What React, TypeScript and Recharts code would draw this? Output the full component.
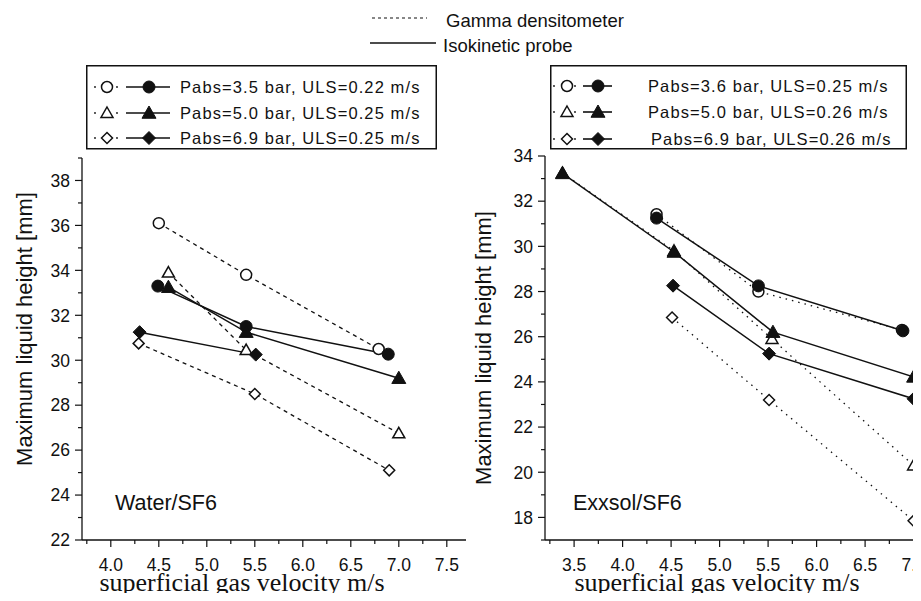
import React from "react";
import { LineChart, Line, XAxis, YAxis, Customized } from "recharts";

type Pt = [number, number];

// Water/SF6, gamma densitometer (open symbols, dashed)
const waterGamma35: Pt[] = [[4.5, 36.1], [5.41, 33.8], [6.79, 30.5]];
const waterGamma50: Pt[] = [[4.6, 33.9], [5.41, 30.45], [7.0, 26.75]];
const waterGamma69: Pt[] = [[4.29, 30.75], [5.5, 28.5], [6.9, 25.1]];
// Water/SF6, isokinetic probe (filled symbols, solid)
const waterIso35: Pt[] = [[4.49, 33.3], [5.41, 31.5], [6.89, 30.27]];
const waterIso50: Pt[] = [[4.6, 33.25], [5.41, 31.25], [7.0, 29.2]];
const waterIso69: Pt[] = [[4.3, 31.25], [5.51, 30.25]];

// Exxsol/SF6, gamma densitometer
const exxGamma36: Pt[] = [[4.35, 31.42], [5.4, 28.0], [6.88, 26.3]];
const exxGamma50: Pt[] = [[3.38, 33.25], [4.53, 29.8], [5.54, 25.9], [7.0, 20.3]];
const exxGamma69: Pt[] = [[4.51, 26.85], [5.51, 23.2], [7.0, 17.85]];
// Exxsol/SF6, isokinetic probe
const exxIso36: Pt[] = [[4.35, 31.25], [5.4, 28.25], [6.89, 26.26]];
const exxIso50: Pt[] = [[3.38, 33.23], [4.53, 29.75], [5.55, 26.2], [7.0, 24.22]];
const exxIso69: Pt[] = [[4.52, 28.26], [5.51, 25.25], [7.0, 23.25]];

const waterXTicks = [3.75, 4.0, 4.25, 4.5, 4.75, 5.0, 5.25, 5.5, 5.75, 6.0, 6.25, 6.5, 6.75, 7.0, 7.25, 7.5];
const exxXTicks = [3.25, 3.5, 3.75, 4.0, 4.25, 4.5, 4.75, 5.0, 5.25, 5.5, 5.75, 6.0, 6.25, 6.5, 6.75, 7.0];
const waterYTicks = [22, 23, 24, 25, 26, 27, 28, 29, 30, 31, 32, 33, 34, 35, 36, 37, 38, 39];
const exxYTicks = [17, 18, 19, 20, 21, 22, 23, 24, 25, 26, 27, 28, 29, 30, 31, 32, 33, 34];

const waterLegend = ["Pabs=3.5 bar, ULS=0.22 m/s", "Pabs=5.0 bar, ULS=0.25 m/s", "Pabs=6.9 bar, ULS=0.25 m/s"];
const exxLegend = ["Pabs=3.6 bar, ULS=0.25 m/s", "Pabs=5.0 bar, ULS=0.26 m/s", "Pabs=6.9 bar, ULS=0.26 m/s"];

const SANS = "'Liberation Sans', Arial, Helvetica, sans-serif";
const SERIF = "'Liberation Serif', 'Times New Roman', serif";
const INK = "#111";
const AXIS_Y = 540; // bottom of both plot areas

type Shape = "circle" | "triangle" | "diamond";

const toRows = (pts: Pt[]) => pts.map(([x, y]) => ({ x, y }));

const Marker = ({ cx, cy, shape, filled }: { cx: number; cy: number; shape: Shape; filled: boolean }) => {
  const fill = filled ? INK : "#fff";
  const sw = filled ? 1 : 1.5;
  if (shape === "circle") {
    return <circle cx={cx} cy={cy} r={filled ? 6 : 5.5} fill={fill} stroke={INK} strokeWidth={sw} />;
  }
  if (shape === "triangle") {
    const s = filled ? 7 : 6;
    return (
      <polygon
        points={`${cx},${cy - s} ${cx + s},${cy + s * 0.75} ${cx - s},${cy + s * 0.75}`}
        fill={fill}
        stroke={INK}
        strokeWidth={sw}
      />
    );
  }
  const d = filled ? 6.5 : 5.5;
  return (
    <polygon
      points={`${cx},${cy - d} ${cx + d},${cy} ${cx},${cy + d} ${cx - d},${cy}`}
      fill={fill}
      stroke={INK}
      strokeWidth={sw}
    />
  );
};

const dotOf = (shape: Shape, filled: boolean) => (p: any) =>
  <Marker key={`${shape}-${filled}-${p.index}`} cx={p.cx} cy={p.cy} shape={shape} filled={filled} />;

const XTick = (props: any) => {
  const { x, payload, axisY } = props;
  const v = payload.value as number;
  const major = Math.abs(v * 2 - Math.round(v * 2)) < 1e-6;
  return (
    <g>
      <line x1={x} y1={axisY} x2={x} y2={axisY + (major ? 7 : 4)} stroke={INK} strokeWidth={1.2} />
      {major && (
        <text x={x} y={axisY + 31} textAnchor="middle" fontSize={17.5} fontFamily={SANS} fill={INK}>
          {v.toFixed(1)}
        </text>
      )}
    </g>
  );
};

const YTick = (props: any) => {
  const { x, y, payload } = props;
  const v = payload.value as number;
  const major = v % 2 === 0;
  return (
    <g>
      <line x1={x} y1={y} x2={x - (major ? 7 : 4)} y2={y} stroke={INK} strokeWidth={1.2} />
      {major && (
        <text x={x - 12} y={y} dy="0.36em" textAnchor="end" fontSize={17.5} fontFamily={SANS} fill={INK}>
          {v}
        </text>
      )}
    </g>
  );
};

const PanelText = ({ yLabelX, yLabelY, xLabelX, tag, tagX }: any) => (
  <g>
    <text
      transform={`translate(${yLabelX},${yLabelY}) rotate(-90)`}
      textAnchor="middle"
      fontSize={22}
      fontFamily={SANS}
      fill={INK}
    >
      Maximum liquid height [mm]
    </text>
    <text x={xLabelX} y={591} textAnchor="middle" fontSize={26} fontFamily={SERIF} fill={INK}>
      superficial gas velocity m/s
    </text>
    <text x={tagX} y={510} fontSize={21.5} fontFamily={SANS} fill={INK}>
      {tag}
    </text>
  </g>
);

const series = (gamma: Pt[][], iso: Pt[][], dash: string) => {
  const shapes: Shape[] = ["circle", "triangle", "diamond"];
  return [
    ...gamma.map((pts, i) => (
      <Line
        key={`g${i}`}
        data={toRows(pts)}
        dataKey="y"
        stroke={INK}
        strokeWidth={1.3}
        strokeDasharray={dash}
        dot={dotOf(shapes[i], false)}
        activeDot={false}
        isAnimationActive={false}
      />
    )),
    ...iso.map((pts, i) => (
      <Line
        key={`i${i}`}
        data={toRows(pts)}
        dataKey="y"
        stroke={INK}
        strokeWidth={1.5}
        dot={dotOf(shapes[i], true)}
        activeDot={false}
        isAnimationActive={false}
      />
    )),
  ];
};

const LegendBox = ({ left, width, labels, rows, openX, dots, lineX, markX, textX }: any) => {
  const shapes: Shape[] = ["circle", "triangle", "diamond"];
  return (
    <svg style={{ position: "absolute", left, top: 65 }} width={width} height={85}>
      <rect x={0.75} y={0.75} width={width - 1.5} height={83} fill="#fff" stroke={INK} strokeWidth={1.5} />
      {shapes.map((s, i) => (
        <g key={s}>
          <circle cx={dots[0]} cy={rows[i]} r={0.9} fill={INK} />
          <circle cx={dots[1]} cy={rows[i]} r={0.9} fill={INK} />
          <Marker cx={openX} cy={rows[i]} shape={s} filled={false} />
          <line x1={lineX[0]} y1={rows[i]} x2={lineX[1]} y2={rows[i]} stroke={INK} strokeWidth={1.6} />
          <Marker cx={markX} cy={rows[i]} shape={s} filled />
          <text x={textX[i]} y={rows[i] + 6} fontSize={16.5} letterSpacing={1.1} fontFamily={SANS} fill={INK}>
            {labels[i]}
          </text>
        </g>
      ))}
    </svg>
  );
};

export default function App() {
  return (
    <div
      style={{
        position: "relative",
        width: 921,
        height: 601,
        margin: -8,
        overflow: "hidden",
        background: "#fff",
        fontFamily: SANS,
      }}
    >
      <svg style={{ position: "absolute", left: 360, top: 0 }} width={300} height={60}>
        <line x1={12} y1={18} x2={67} y2={18} stroke={INK} strokeWidth={1.2} strokeDasharray="3 3" />
        <text x={86} y={27} fontSize={18.5} fontFamily={SANS} fill={INK}>
          Gamma densitometer
        </text>
        <line x1={10} y1={43} x2={76} y2={43} stroke={INK} strokeWidth={1.5} />
        <text x={83} y={52} fontSize={18.5} fontFamily={SANS} fill={INK}>
          Isokinetic probe
        </text>
      </svg>

      <div style={{ position: "absolute", left: 0, top: 0 }}>
        <LineChart width={470} height={601} margin={{ top: 158, right: 4, bottom: 1, left: 0 }}>
          <XAxis
            type="number"
            dataKey="x"
            domain={[3.7, 7.7]}
            ticks={waterXTicks}
            interval={0}
            tick={<XTick axisY={AXIS_Y} />}
            tickLine={false}
            tickSize={0}
            tickMargin={0}
            axisLine={{ stroke: INK, strokeWidth: 1.3 }}
            height={60}
            allowDataOverflow
          />
          <YAxis
            type="number"
            domain={[22, 39]}
            ticks={waterYTicks}
            interval={0}
            tick={<YTick />}
            tickLine={false}
            tickSize={0}
            tickMargin={0}
            axisLine={{ stroke: INK, strokeWidth: 1.3 }}
            width={82}
            allowDataOverflow
          />
          {series([waterGamma35, waterGamma50, waterGamma69], [waterIso35, waterIso50, waterIso69], "4 4")}
          <Customized
            component={() => (
              <PanelText yLabelX={32} yLabelY={329} xLabelX={242} tag="Water/SF6" tagX={115} />
            )}
          />
        </LineChart>
      </div>

      <div style={{ position: "absolute", left: 460, top: 0 }}>
        <LineChart width={480} height={601} margin={{ top: 156, right: 7, bottom: 1, left: 0 }}>
          <XAxis
            type="number"
            dataKey="x"
            domain={[3.2, 7.2]}
            ticks={exxXTicks}
            interval={0}
            tick={<XTick axisY={AXIS_Y} />}
            tickLine={false}
            tickSize={0}
            tickMargin={0}
            axisLine={{ stroke: INK, strokeWidth: 1.3 }}
            height={60}
            allowDataOverflow
          />
          <YAxis
            type="number"
            domain={[17, 34]}
            ticks={exxYTicks}
            interval={0}
            tick={<YTick />}
            tickLine={false}
            tickSize={0}
            tickMargin={0}
            axisLine={{ stroke: INK, strokeWidth: 1.3 }}
            width={85}
            allowDataOverflow
          />
          {series([exxGamma36, exxGamma50, exxGamma69], [exxIso36, exxIso50, exxIso69], "1.5 5")}
          <Customized
            component={() => (
              <PanelText yLabelX={31} yLabelY={348} xLabelX={257} tag="Exxsol/SF6" tagX={113} />
            )}
          />
        </LineChart>
      </div>

      <LegendBox
        left={86}
        width={351}
        labels={waterLegend}
        rows={[22, 48, 73]}
        dots={[9, 31]}
        openX={21}
        lineX={[40, 84]}
        markX={63}
        textX={[94, 94, 94]}
      />
      <LegendBox
        left={550}
        width={357}
        labels={exxLegend}
        rows={[21, 47, 74]}
        dots={[4, 25]}
        openX={17}
        lineX={[33, 62]}
        markX={48}
        textX={[98, 98, 101]}
      />
    </div>
  );
}
